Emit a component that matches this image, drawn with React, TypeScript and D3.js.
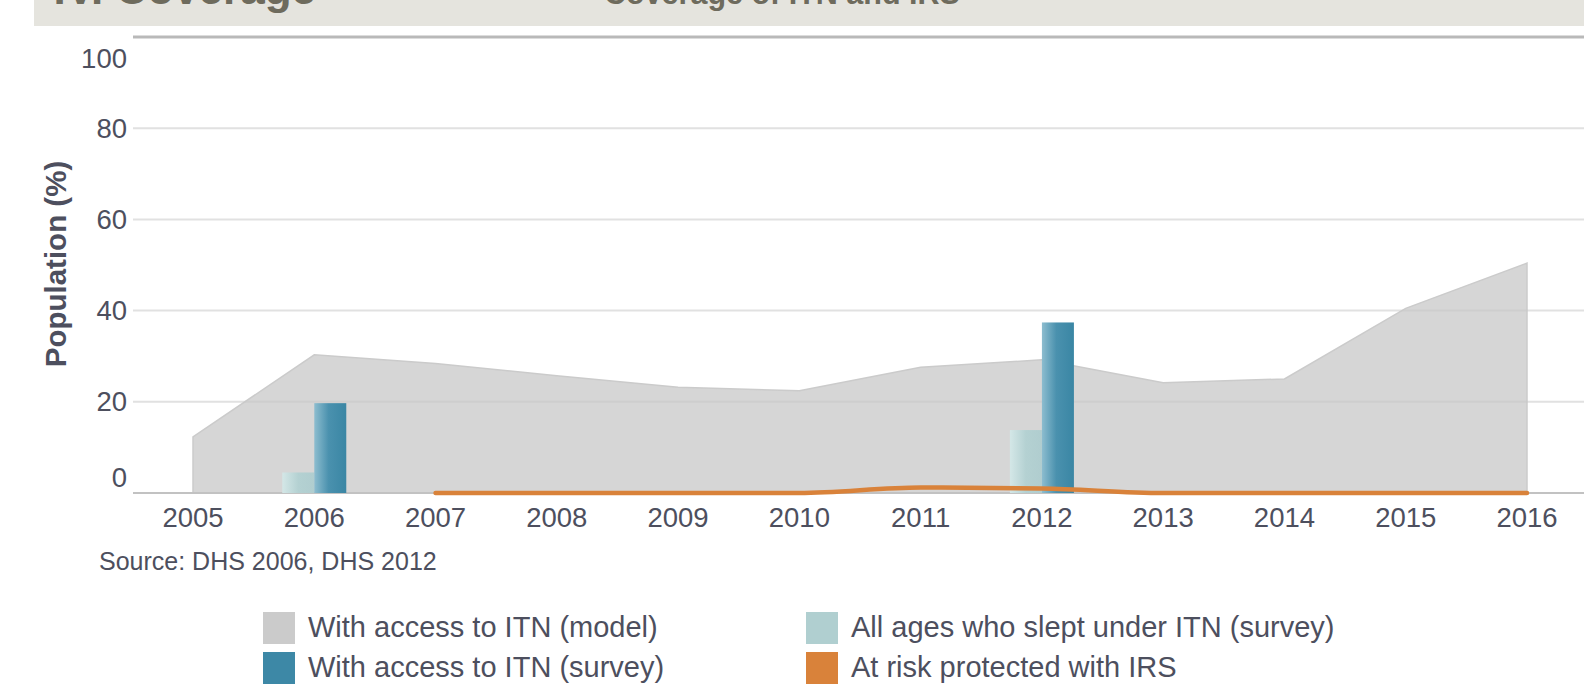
import React from "react";
import * as d3 from "d3";

// values
const years = [2005, 2006, 2007, 2008, 2009, 2010, 2011, 2012, 2013, 2014, 2015, 2016];
const itnModel = [12.3, 30.3, 28.4, 25.7, 23.2, 22.4, 27.6, 29.2, 24.2, 25.0, 40.5, 50.4];

const surveyYears = [2006, 2012];
const itnSurvey = [19.7, 37.4];
const sleptSurvey = [4.5, 13.8];

const irsYears = [2007, 2008, 2009, 2010, 2011, 2012, 2013, 2014, 2015, 2016];
const irsValues = [0, 0, 0, 0, 1.2, 1.0, 0, 0, 0, 0];

const yTicks = [0, 20, 40, 60, 80, 100];

const legendItems = [
  { label: "With access to ITN (model)", color: "#cbcbcb" },
  { label: "With access to ITN (survey)", color: "#3d88a6" },
  { label: "All ages who slept under ITN (survey)", color: "#b0cfd0" },
  { label: "At risk protected with IRS", color: "#d9823a" },
];

const W = 1584;
const H = 688;
const FONT = "'Liberation Sans', Arial, sans-serif";
const TEXT = "#4d4f5e";

export default function App() {
  const x = d3.scaleLinear().domain([2005, 2016]).range([193, 1527]);
  const y = d3.scaleLinear().domain([0, 100]).range([493, 37]);
  const barW = 32;

  const area = d3
    .area<number>()
    .x((_, i) => x(years[i]))
    .y0(y(0))
    .y1((d) => y(d));

  const irsLine = d3
    .line<number>()
    .x((_, i) => x(irsYears[i]))
    .y((d) => y(d))
    .curve(d3.curveMonotoneX);

  // end labels sit inside the plot
  const labelShift = (t: number) => (t === 100 ? 21 : t === 0 ? -16 : 0);

  return (
    <svg width={W} height={H} style={{ display: "block", fontFamily: FONT }}>
      <style>{`body{margin:0}`}</style>
      <defs>
        <linearGradient id="gDark" x1="0" x2="1" y1="0" y2="0">
          <stop offset="0%" stopColor="#8dbdcf" />
          <stop offset="45%" stopColor="#4a91ae" />
          <stop offset="100%" stopColor="#3a86a4" />
        </linearGradient>
        <linearGradient id="gLight" x1="0" x2="1" y1="0" y2="0">
          <stop offset="0%" stopColor="#d4e7e7" />
          <stop offset="50%" stopColor="#b4d1d2" />
          <stop offset="100%" stopColor="#b0cdcf" />
        </linearGradient>
      </defs>

      {/* header band, its titles run off the top edge */}
      <rect x={34} y={0} width={W - 34} height={26} fill="#e5e4de" />
      <text x={316} y={4} textAnchor="end" fontSize={44} fontWeight="bold" fill="#6e6b5d">
        IV. Coverage
      </text>
      <text x={604} y={4} fontSize={30.5} fontWeight="bold" fill="#6e6b5d">
        Coverage of ITN and IRS
      </text>

      {/* model area */}
      <path d={area(itnModel) || ""} fill="#d6d6d6" stroke="#cbcbcb" strokeWidth={1.5} />

      {/* grid */}
      {yTicks.map((t) => (
        <line
          key={t}
          x1={133}
          x2={W}
          y1={y(t)}
          y2={y(t)}
          stroke={t === 100 ? "#b9b9b9" : t === 0 ? "#c2c2c2" : "#c8c8c8"}
          strokeOpacity={t === 100 || t === 0 ? 1 : 0.55}
          strokeWidth={t === 100 ? 3 : 2}
        />
      ))}
      {yTicks.map((t) => (
        <text
          key={"l" + t}
          x={127}
          y={y(t) + labelShift(t)}
          dy="0.35em"
          textAnchor="end"
          fontSize={27.5}
          fill={TEXT}
        >
          {t}
        </text>
      ))}

      {/* survey bars */}
      {surveyYears.map((yr, i) => (
        <g key={yr}>
          <rect
            x={x(yr) - barW}
            y={y(sleptSurvey[i])}
            width={barW}
            height={y(0) - y(sleptSurvey[i])}
            fill="url(#gLight)"
          />
          <rect
            x={x(yr)}
            y={y(itnSurvey[i])}
            width={barW}
            height={y(0) - y(itnSurvey[i])}
            fill="url(#gDark)"
          />
        </g>
      ))}

      {/* IRS line */}
      <path
        d={irsLine(irsValues) || ""}
        fill="none"
        stroke="#d9823a"
        strokeWidth={4.5}
        strokeLinecap="round"
      />

      {/* x labels */}
      {years.map((yr) => (
        <text key={yr} x={x(yr)} y={527} textAnchor="middle" fontSize={27.5} fill={TEXT}>
          {yr}
        </text>
      ))}

      <text
        transform={`translate(66,264) rotate(-90)`}
        textAnchor="middle"
        fontSize={29.5}
        fontWeight="bold"
        fill={TEXT}
      >
        Population (%)
      </text>

      <text x={99} y={570} fontSize={25} fill={TEXT}>
        Source: DHS 2006, DHS 2012
      </text>

      {/* legend */}
      {legendItems.map((item, i) => {
        const col = Math.floor(i / 2);
        const row = i % 2;
        const lx = col === 0 ? 263 : 806;
        const ly = 612 + row * 40;
        return (
          <g key={item.label}>
            <rect x={lx} y={ly} width={32} height={32} fill={item.color} />
            <text x={lx + 45} y={ly + 25} fontSize={29} fill={TEXT}>
              {item.label}
            </text>
          </g>
        );
      })}
    </svg>
  );
}
